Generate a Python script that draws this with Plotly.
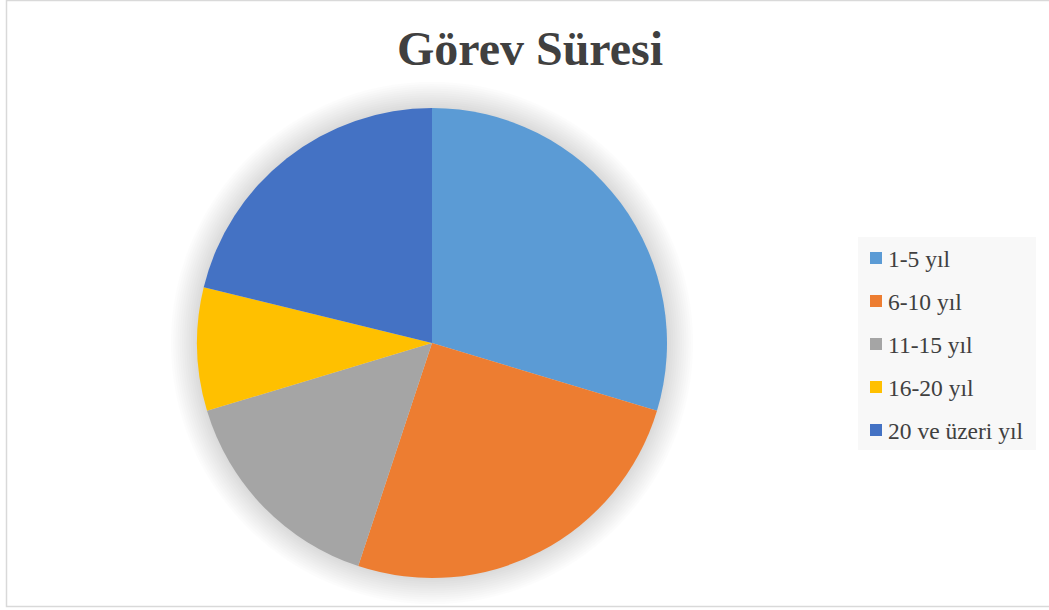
import plotly.graph_objects as go

labels = ["1-5 yıl", "6-10 yıl", "11-15 yıl", "16-20 yıl", "20 ve üzeri yıl"]
values = [35, 30, 18, 10, 25]
colors = ["#5B9BD5", "#ED7D31", "#A5A5A5", "#FFC000", "#4472C4"]

W, H = 1049, 610
cx, cy, r = 432, 343, 235

def px(x):
    return x / W

def py(y):
    return 1 - y / H

fig = go.Figure()
fig.add_trace(go.Pie(
    labels=labels, values=values, sort=False, direction="clockwise", rotation=0,
    marker=dict(colors=colors, line=dict(width=0)),
    textinfo="none", hoverinfo="label+value+percent", showlegend=False,
    domain=dict(x=[px(cx - r), px(cx + r)], y=[py(cy + r), py(cy - r)]),
))

shapes = []
# soft glow shadow behind the pie
for i in range(12):
    rr = r + 2 + i * 2.2
    shapes.append(dict(type="circle", xref="paper", yref="paper", layer="below",
                       x0=px(cx - rr), x1=px(cx + rr), y0=py(cy + rr), y1=py(cy - rr),
                       fillcolor="rgba(0,0,0,0.013)", line=dict(width=0)))
# chart border
shapes.append(dict(type="rect", xref="paper", yref="paper", layer="below",
                   x0=px(6.5), x1=px(1060), y0=py(606.5), y1=py(0.5),
                   line=dict(color="#D9D9D9", width=1.5), fillcolor="rgba(0,0,0,0)"))
# legend box
lx0, lx1, ly0, ly1 = 858, 1036, 237, 450
shapes.append(dict(type="rect", xref="paper", yref="paper", layer="below",
                   x0=px(lx0), x1=px(lx1), y0=py(ly1), y1=py(ly0),
                   fillcolor="#F8F8F8", line=dict(width=0)))
annotations = []
for i, (lab, col) in enumerate(zip(labels, colors)):
    yc = 258 + i * 43
    shapes.append(dict(type="rect", xref="paper", yref="paper",
                       x0=px(870), x1=px(882), y0=py(yc + 6), y1=py(yc - 6),
                       fillcolor=col, line=dict(width=0)))
    annotations.append(dict(text=lab, xref="paper", yref="paper", x=px(886), y=py(yc + 1),
                            xanchor="left", yanchor="middle", showarrow=False,
                            font=dict(family="Liberation Serif", size=23.5, color="#404040")))

fig.update_layout(
    width=W, height=H, margin=dict(l=0, r=0, t=0, b=0),
    paper_bgcolor="white", plot_bgcolor="white",
    title=dict(text="<b>Görev Süresi</b>", x=px(530), xanchor="center", y=py(48), yanchor="middle",
               font=dict(family="Liberation Serif", size=48, color="#404040")),
    shapes=shapes, annotations=annotations,
)

fig.write_html("out.html")
